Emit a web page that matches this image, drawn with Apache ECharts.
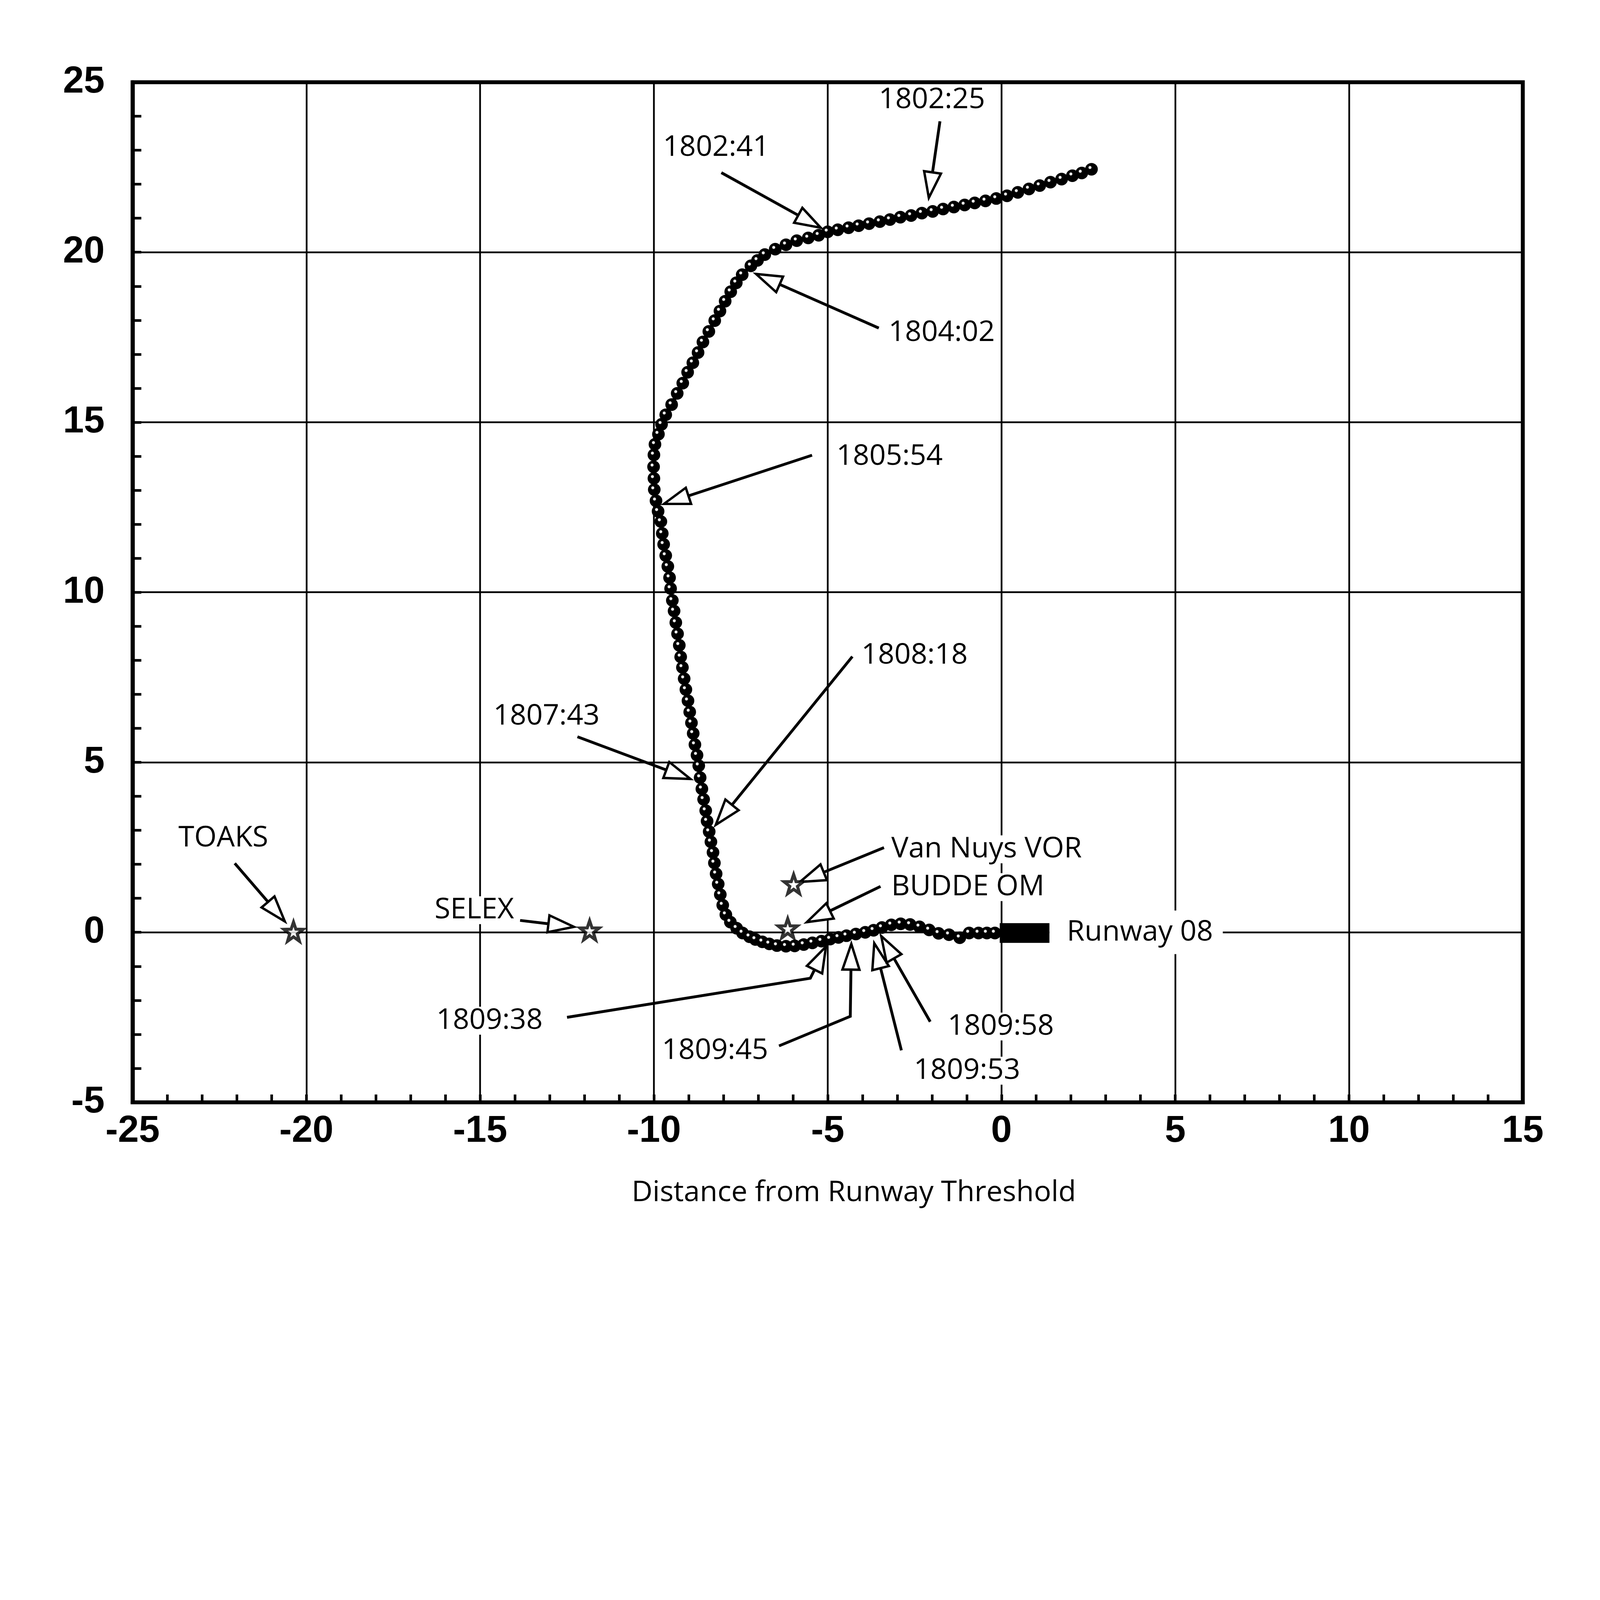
<!DOCTYPE html>
<html><head><meta charset="utf-8">
<script src="https://cdn.jsdelivr.net/npm/echarts/dist/echarts.min.js"></script>
<style>html,body{margin:0;padding:0;background:#fff;overflow:hidden}#c{position:absolute;left:0;top:0}</style>
</head><body><div id="c"></div>
<script>
// ---- axes ----
const xRange = [-25, 15];
const yRange = [-5, 25];
const tickStep = 5;

// ---- radar track (flight order) ----
const trackX = [2.59,2.31,2.04,1.73,1.41,1.10,0.79,0.47,0.16,-0.15,-0.46,-0.77,-1.06,-1.37,-1.68,-1.98,-2.29,-2.60,-2.91,-3.21,-3.50,-3.81,-4.11,-4.40,-4.71,-5.00,
  -5.26,-5.56,-5.89,-6.20,-6.51,-6.81,-7.02,-7.21,-7.46,-7.63,-7.79,-7.95,-8.10,-8.25,-8.42,-8.59,-8.73,-8.88,-9.03,-9.17,-9.33,-9.49,-9.66,-9.78,-9.87,-9.97,-10.00,-10.01,-10.00,-9.99,-9.94,
  -9.88,-9.80,-9.76,-9.72,-9.66,-9.60,-9.55,-9.52,-9.47,-9.42,-9.37,-9.32,-9.27,-9.23,-9.18,-9.13,-9.08,-9.02,-8.97,-8.92,-8.87,-8.82,-8.76,-8.71,-8.67,-8.62,-8.57,-8.51,-8.47,-8.41,-8.36,-8.30,-8.26,-8.21,-8.15,-8.09,-8.02,
  -7.93,-7.80,-7.62,-7.45,-7.25,-7.08,-6.88,-6.68,-6.46,-6.20,-5.95,-5.69,-5.44,-5.18,-4.93,-4.69,-4.46,-4.19,-3.92,-3.68,-3.44,-3.17,-2.90,-2.63,-2.36,-2.08,-1.81,-1.51,-1.20,-0.93,-0.66,-0.42,-0.19];
const trackY = [22.44,22.33,22.25,22.15,22.06,21.96,21.86,21.76,21.66,21.58,21.51,21.45,21.39,21.33,21.27,21.20,21.15,21.08,21.03,20.96,20.90,20.84,20.78,20.72,20.66,20.60,
  20.50,20.42,20.34,20.22,20.09,19.93,19.76,19.60,19.34,19.10,18.84,18.56,18.27,17.99,17.67,17.36,17.05,16.75,16.47,16.15,15.85,15.52,15.22,14.94,14.65,14.35,14.04,13.69,13.35,13.02,12.69,
  12.38,12.08,11.73,11.41,11.08,10.76,10.43,10.11,9.76,9.45,9.11,8.78,8.44,8.10,7.79,7.46,7.14,6.81,6.48,6.16,5.85,5.52,5.21,4.90,4.55,4.22,3.91,3.58,3.27,2.96,2.66,2.35,2.04,1.72,1.42,1.11,0.80,
  0.52,0.30,0.12,-0.02,-0.13,-0.21,-0.28,-0.34,-0.39,-0.41,-0.40,-0.36,-0.31,-0.26,-0.20,-0.15,-0.10,-0.05,0.00,0.06,0.14,0.22,0.25,0.23,0.16,0.07,-0.03,-0.07,-0.16,-0.02,-0.02,-0.02,-0.02];

// ---- waypoints (stars) ----
const waypointNames = ['TOAKS', 'SELEX', 'Van Nuys VOR', 'BUDDE OM'];
const waypointX = [-20.37, -11.85, -5.98, -6.15];
const waypointY = [0.02, 0.06, 1.42, 0.12];

// ---- runway block ----
const runwayX = [-0.05, 1.38];
const runwayY = [-0.31, 0.27];

// ---- annotation labels ----
const labelText = ['1802:25','1802:41','1804:02','1805:54','1808:18','1807:43','Van Nuys VOR','BUDDE OM','Runway 08','TOAKS','SELEX','1809:38','1809:45','1809:53','1809:58'];
const labelX = [-2.00,-8.21,-1.72,-3.22,-2.50,-13.09,-3.17,-3.17,1.88,-22.39,-15.17,-14.73,-8.24,-0.99,-0.02];
const labelY = [24.48,23.08,17.63,13.99,8.14,6.35,2.44,1.33,0.00,2.76,0.65,-2.60,-3.48,-4.07,-2.77];
const labelAlign = ['center','center','center','center','center','center','left','left','left','center','center','center','center','center','center'];

// ---- annotation arrows (tail ... tip) ----
const arrowX = [[-1.77,-2.09],[-8.06,-5.20],[-3.53,-7.06],[-5.45,-9.71],[-4.29,-8.22],[-12.20,-8.95],
  [-3.38,-5.80],[-3.48,-5.60],[-22.06,-20.62],[-13.85,-12.30],[-12.50,-5.50,-5.05],[-6.40,-4.35,-4.32],[-2.88,-3.66],[-2.05,-3.46]];
const arrowY = [[23.85,21.60],[22.34,20.72],[17.77,19.36],[14.03,12.60],[8.11,3.16],[5.75,4.51],
  [2.49,1.48],[1.35,0.30],[2.03,0.32],[0.35,0.16],[-2.50,-1.35,-0.42],[-3.34,-2.47,-0.34],[-3.47,-0.32],[-2.63,-0.11]];

// ---- layout scale (designed for a 7337 x 5759 page) ----
const BASE_W = 7337, BASE_H = 5759;
const s = Math.min((window.innerWidth || BASE_W) / BASE_W, (window.innerHeight || BASE_H) / BASE_H);
const px = v => v * s;
const el = document.getElementById('c');
el.style.width = px(BASE_W) + 'px';
el.style.height = px(BASE_H) + 'px';

const FONT = '"Open Sans","Noto Sans",sans-serif';
const AX_FONT = '"Liberation Sans",Arial,sans-serif';
const STAR = 'path://M50 0 L61.8 33.8 L97.6 34.5 L69 56.2 L79.4 90.5 L50 70 L20.6 90.5 L31 56.2 L2.4 34.5 L38.2 33.8 Z';

const chart = echarts.init(el, null, {renderer: 'canvas'});

function labelItem(params, api) {
  const i = params.dataIndex;
  const p = api.coord([labelX[i], labelY[i]]);
  const isRunway = labelText[i] === 'Runway 08';
  const pad = (isRunway ? [40, 45, 40, 80] : [4, 24, 4, 24]).map(px);
  const x = labelAlign[i] === 'left' ? p[0] - pad[3] : p[0];
  return {type: 'text', x: x, y: p[1], style: {
    text: labelText[i], fontSize: px(132), lineHeight: px(120), fontFamily: FONT, fill: '#000',
    align: labelAlign[i], verticalAlign: 'middle', backgroundColor: '#fff', padding: pad}};
}

function arrowItem(params, api) {
  const i = params.dataIndex;
  const pts = arrowX[i].map((x, k) => api.coord([x, arrowY[i][k]]));
  const T = pts[pts.length - 1], P = pts[pts.length - 2];
  let dx = T[0] - P[0], dy = T[1] - P[1];
  const len = Math.hypot(dx, dy); dx /= len; dy /= len;
  const L = px(118), W = px(78);
  const B = [T[0] - dx * L, T[1] - dy * L];
  const nx = -dy, ny = dx;
  const shaft = pts.slice(0, -1).concat([B]);
  return {type: 'group', children: [
    {type: 'polyline', shape: {points: shaft}, style: {stroke: '#000', lineWidth: px(13), fill: null}},
    {type: 'polygon', shape: {points: [T, [B[0] + nx * W / 2, B[1] + ny * W / 2], [B[0] - nx * W / 2, B[1] - ny * W / 2]]},
      style: {fill: '#fff', stroke: '#000', lineWidth: px(11), lineJoin: 'miter'}}
  ]};
}

function runwayItem(params, api) {
  const a = api.coord([runwayX[0], runwayY[1]]);
  const b = api.coord([runwayX[1], runwayY[0]]);
  return {type: 'rect', shape: {x: a[0], y: a[1], width: b[0] - a[0], height: b[1] - a[1]}, style: {fill: '#000'}};
}

const beadColor = {type: 'radial', x: 0.38, y: 0.36, r: 0.62, colorStops: [
  {offset: 0, color: '#fff'}, {offset: 0.13, color: '#fff'}, {offset: 0.24, color: '#000'}, {offset: 1, color: '#000'}]};

chart.setOption({
  animation: false,
  backgroundColor: '#fff',
  grid: {left: px(608), right: px(354), top: px(377), bottom: px(704), show: true, borderColor: '#000', borderWidth: px(18), backgroundColor: 'transparent', z: 10},
  xAxis: {
    type: 'value', min: xRange[0], max: xRange[1], interval: tickStep,
    axisLine: {show: true, onZero: false, lineStyle: {color: '#000', width: px(18)}},
    axisTick: {show: true, inside: true, length: px(36), lineStyle: {color: '#000', width: px(12)}},
    minorTick: {show: true, splitNumber: 5, length: px(36), lineStyle: {color: '#000', width: px(12)}},
    splitLine: {show: true, lineStyle: {color: '#000', width: px(8)}},
    axisLabel: {color: '#000', fontSize: px(172), fontWeight: 'bold', fontFamily: AX_FONT, margin: px(48)},
    name: 'Distance from Runway Threshold', nameLocation: 'middle', nameGap: px(350),
    nameTextStyle: {color: '#000', fontSize: px(132), fontFamily: FONT, padding: [0, 0, 0, px(240)]}
  },
  yAxis: {
    type: 'value', min: yRange[0], max: yRange[1], interval: tickStep,
    axisLine: {show: true, onZero: false, lineStyle: {color: '#000', width: px(18)}},
    axisTick: {show: true, inside: true, length: px(40), lineStyle: {color: '#000', width: px(12)}},
    minorTick: {show: true, splitNumber: 5, length: px(40), lineStyle: {color: '#000', width: px(12)}},
    splitLine: {show: true, lineStyle: {color: '#000', width: px(8)}},
    axisLabel: {color: '#000', fontSize: px(172), fontWeight: 'bold', fontFamily: AX_FONT, margin: px(128)}
  },
  series: [
    {type: 'custom', name: 'labels', z: 3, renderItem: labelItem,
      data: labelText.map((t, i) => [labelX[i], labelY[i]])},
    {type: 'custom', name: 'arrows', z: 4, renderItem: arrowItem,
      data: arrowX.map((a, i) => [a[a.length - 1], arrowY[i][arrowY[i].length - 1]])},
    {type: 'custom', name: 'runway', z: 5, renderItem: runwayItem,
      data: [[runwayX[0], runwayY[0], runwayX[1], runwayY[1]]]},
    {type: 'line', name: 'track', z: 6, data: trackX.map((x, i) => [x, trackY[i]]),
      symbol: 'circle', symbolSize: px(58), showSymbol: true, showAllSymbol: true,
      lineStyle: {color: '#000', width: px(18)}, itemStyle: {color: beadColor, borderWidth: 0}},
    {type: 'scatter', name: 'waypoints', z: 7, data: waypointX.map((x, i) => [x, waypointY[i]]),
      symbol: STAR, symbolSize: px(88), itemStyle: {color: '#fff', borderColor: '#000', borderWidth: px(14)}}
  ]
});
</script></body></html>
